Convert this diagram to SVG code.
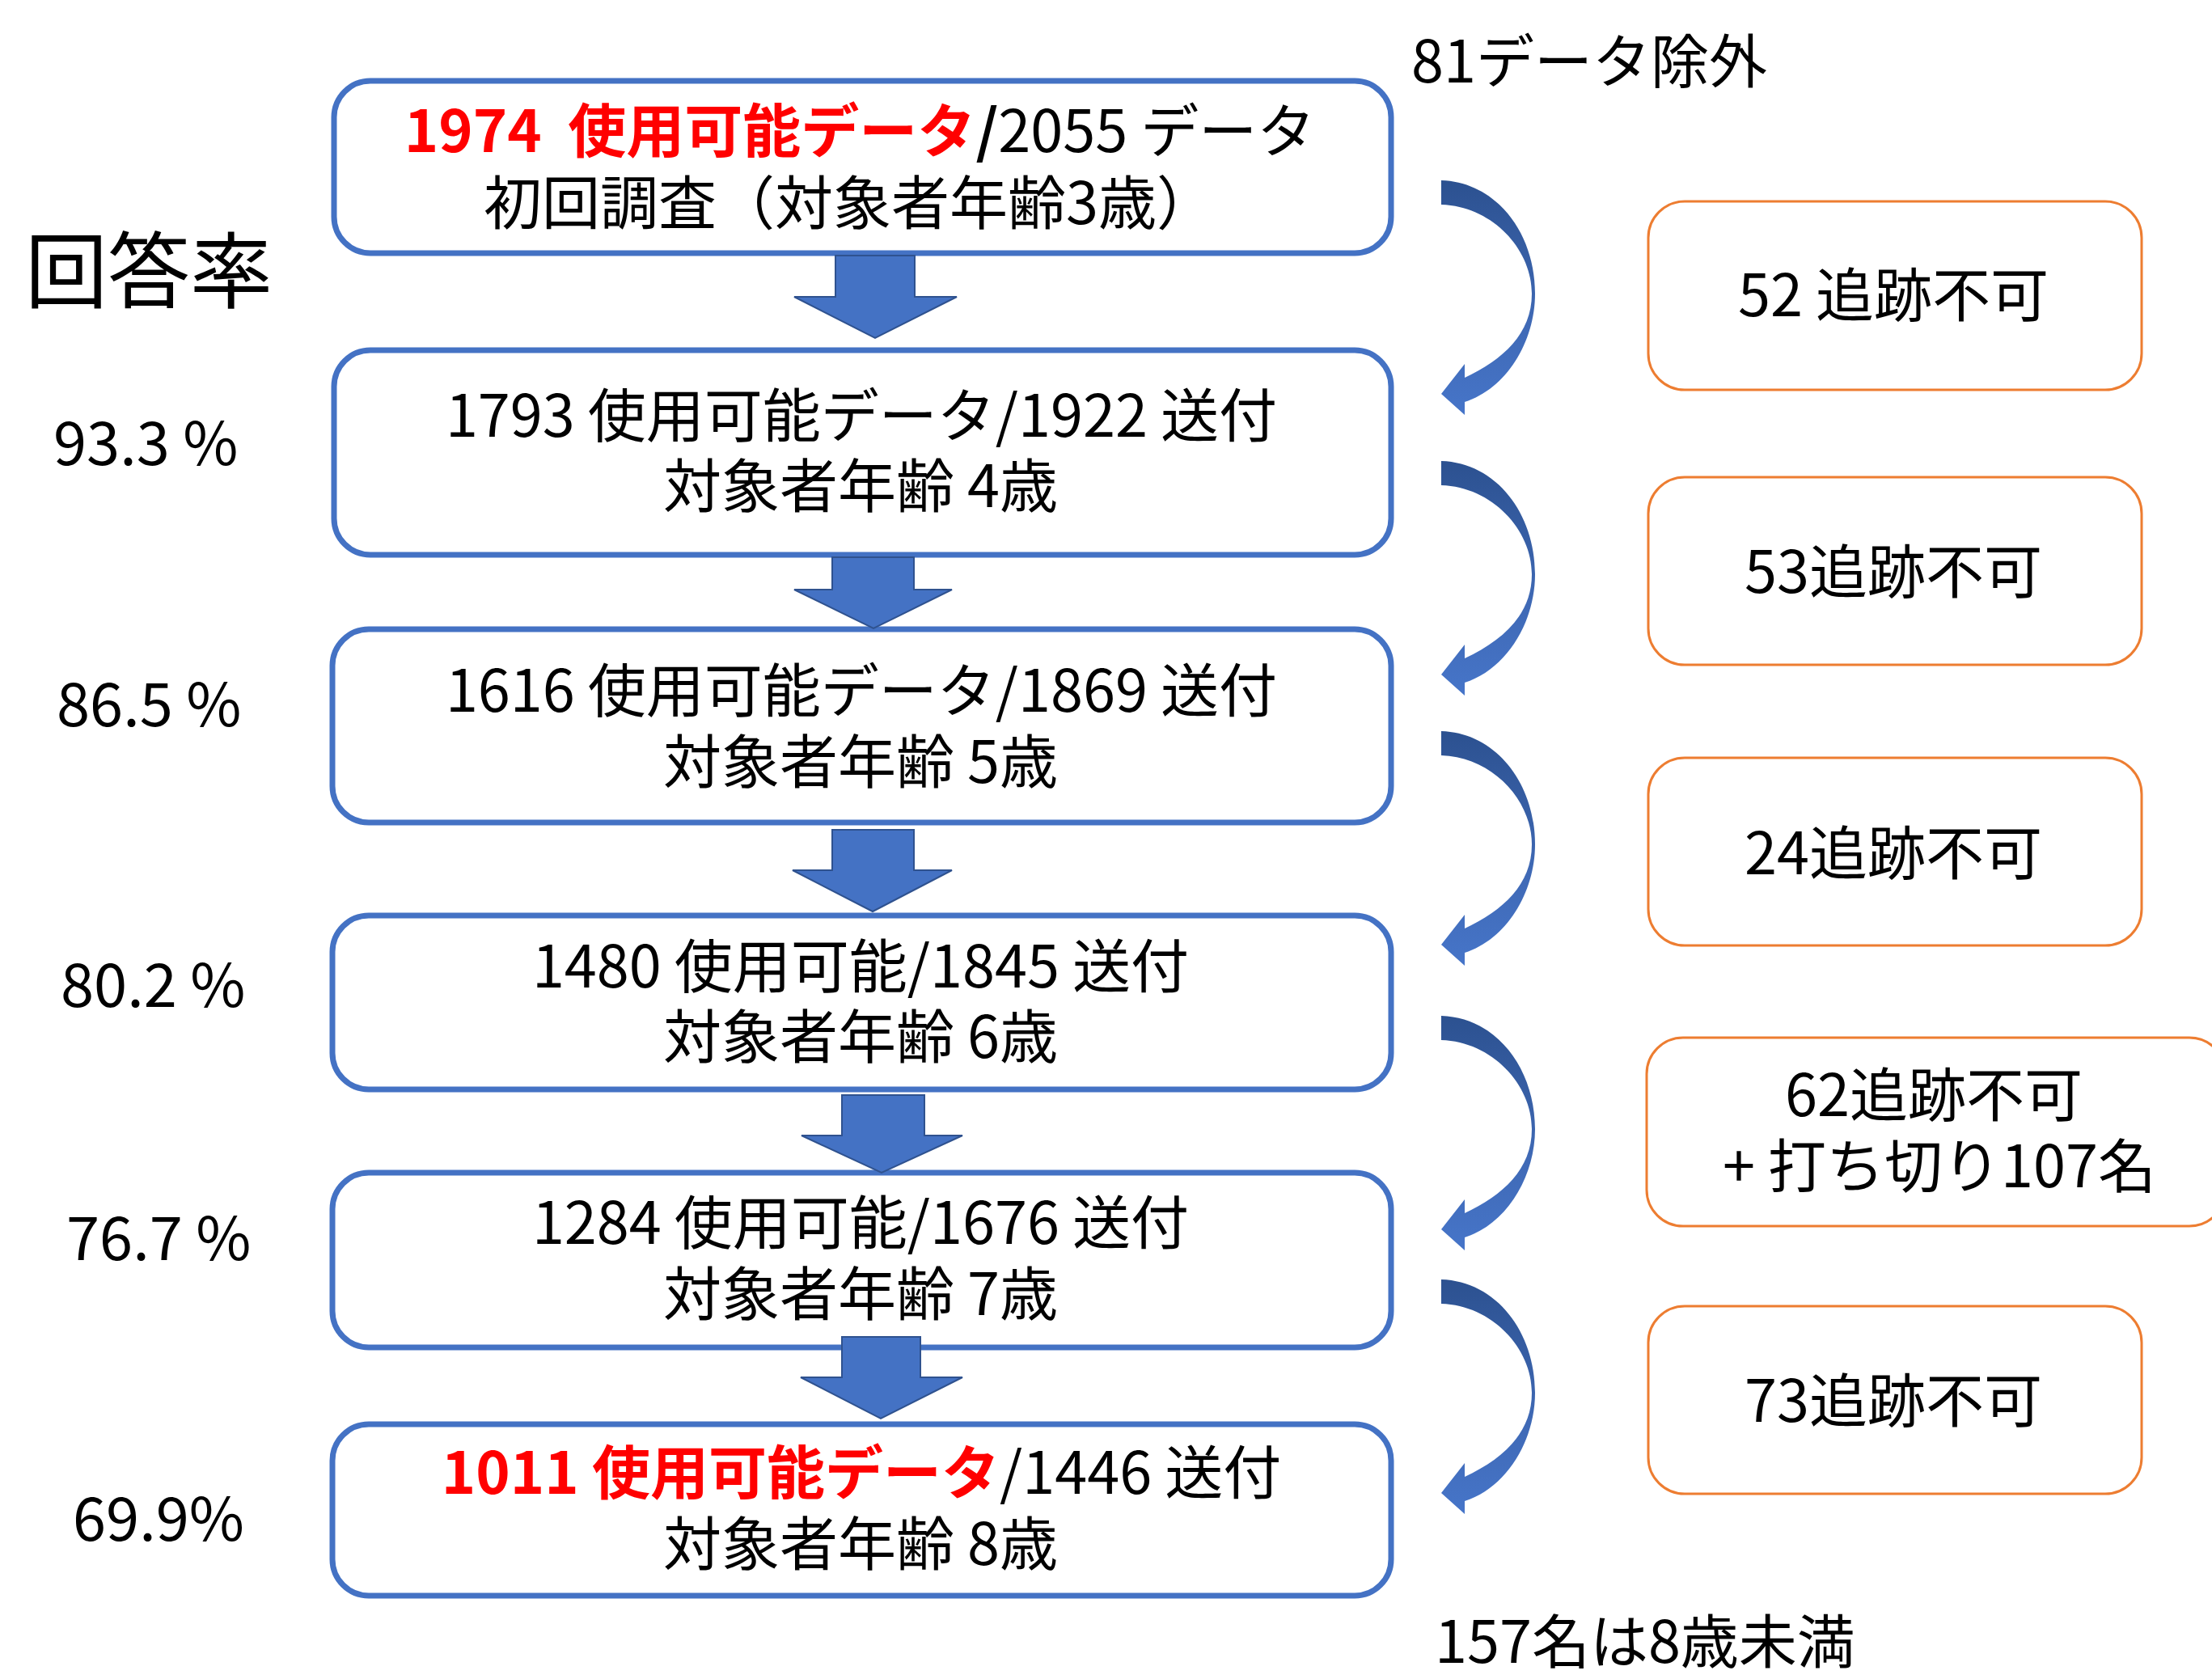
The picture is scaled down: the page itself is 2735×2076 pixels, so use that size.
<svg xmlns="http://www.w3.org/2000/svg" width="2735" height="2076" viewBox="0 0 2735 2076">
<style>
text{font-family:"Noto Sans CJK JP","Noto Sans",sans-serif;font-size:72px;fill:#000;white-space:pre}
.box{fill:#fff;stroke:#4472C4;stroke-width:7}
.obox{fill:#fff;stroke:#ED7D31;stroke-width:3}
.blk{fill:#4472C4;stroke:#2F528F;stroke-width:2}
.red{fill:#FF0000;font-weight:bold}
.b{font-weight:bold}
.c{text-anchor:middle}
</style>
<defs>
<linearGradient id="cg" x1="0" y1="0" x2="0" y2="1">
<stop offset="0" stop-color="#2C5190"/>
<stop offset="0.6" stop-color="#3F69B5"/>
<stop offset="1" stop-color="#4675C9"/>
</linearGradient>
<path id="curve" d="M1782 0 C1850 2 1898 65 1898 140 C1898 200 1862 258 1811 274 L1811 290 L1782 264 L1811 227 L1811 244 C1858 222 1894 190 1894 140 C1894 85 1845 32 1782 30 Z" fill="url(#cg)"/>
</defs>
<rect width="2735" height="2076" fill="#fff"/>

<g id="node1">
<rect class="box" x="413" y="100" width="1307" height="213" rx="45"/>
<text class="c"><tspan x="1063" y="188"><tspan class="red">1974  使用可能データ</tspan><tspan class="b">/</tspan>2055 データ</tspan><tspan x="1050" y="277">初回調査（対象者年齢3歳）</tspan></text>
</g>
<g id="node2">
<rect class="box" x="413" y="433" width="1307" height="253" rx="45"/>
<text class="c"><tspan x="1065" y="540">1793 使用可能データ/1922 送付</tspan><tspan x="1064" y="627">対象者年齢 4歳</tspan></text>
</g>
<g id="node3">
<rect class="box" x="411" y="778" width="1309" height="239" rx="45"/>
<text class="c"><tspan x="1065" y="880">1616 使用可能データ/1869 送付</tspan><tspan x="1064" y="968">対象者年齢 5歳</tspan></text>
</g>
<g id="node4">
<rect class="box" x="411" y="1132" width="1309" height="215" rx="45"/>
<text class="c"><tspan x="1064" y="1221">1480 使用可能/1845 送付</tspan><tspan x="1064" y="1308">対象者年齢 6歳</tspan></text>
</g>
<g id="node5">
<rect class="box" x="411" y="1450" width="1309" height="216" rx="45"/>
<text class="c"><tspan x="1064" y="1538">1284 使用可能/1676 送付</tspan><tspan x="1064" y="1626">対象者年齢 7歳</tspan></text>
</g>
<g id="node6">
<rect class="box" x="411" y="1761" width="1309" height="212" rx="45"/>
<text class="c"><tspan x="1065" y="1847"><tspan class="red">1011 使用可能データ</tspan>/1446 送付</tspan><tspan x="1064" y="1935">対象者年齢 8歳</tspan></text>
</g>

<g id="loss1">
<rect class="obox" x="2038" y="249" width="610" height="233" rx="45"/>
<text class="c" x="2341" y="391">52 追跡不可</text>
</g>
<g id="loss2">
<rect class="obox" x="2038" y="590" width="610" height="232" rx="45"/>
<text class="c" x="2341" y="733">53追跡不可</text>
</g>
<g id="loss3">
<rect class="obox" x="2038" y="937" width="610" height="232" rx="45"/>
<text class="c" x="2341" y="1081">24追跡不可</text>
</g>
<g id="loss4">
<rect class="obox" x="2036" y="1283" width="716" height="233" rx="45"/>
<text class="c"><tspan x="2391" y="1380">62追跡不可</tspan><tspan x="2398" y="1468">+ 打ち切り107名</tspan></text>
</g>
<g id="loss5">
<rect class="obox" x="2038" y="1615" width="610" height="232" rx="45"/>
<text class="c" x="2341" y="1758">73追跡不可</text>
</g>

<g id="connectors">
<polygon class="blk" points="1033,316 1131,316 1131,367 1183,367 1082,418 982,367 1033,367"/>
<polygon class="blk" points="1029,689 1130,689 1130,729 1177,729 1080,777 982,729 1029,729"/>
<polygon class="blk" points="1029,1026 1130,1026 1130,1076 1177,1076 1079,1127 980,1076 1029,1076"/>
<polygon class="blk" points="1041,1354 1143,1354 1143,1404 1190,1404 1090,1450 991,1404 1041,1404"/>
<polygon class="blk" points="1041,1653 1138,1653 1138,1703 1190,1703 1089,1754 990,1703 1041,1703"/>
<use href="#curve" transform="translate(0,223)"/>
<use href="#curve" transform="translate(0,570)"/>
<use href="#curve" transform="translate(0,904)"/>
<use href="#curve" transform="translate(0,1256)"/>
<use href="#curve" transform="translate(0,1582)"/>
</g>

<g id="labels">
<text x="31" y="373" style="font-size:102px">回答率</text>
<text x="66" y="575" style="font-size:74px">93.3 %</text>
<text x="70" y="898" style="font-size:74px">86.5 %</text>
<text x="75" y="1245" style="font-size:74px">80.2 %</text>
<text x="82" y="1558" style="font-size:74px">76.7 %</text>
<text x="90" y="1905" style="font-size:74px">69.9%</text>
<text x="1745" y="102">81データ除外</text>
<text x="1774" y="2056">157名は8歳未満</text>
</g>
</svg>
